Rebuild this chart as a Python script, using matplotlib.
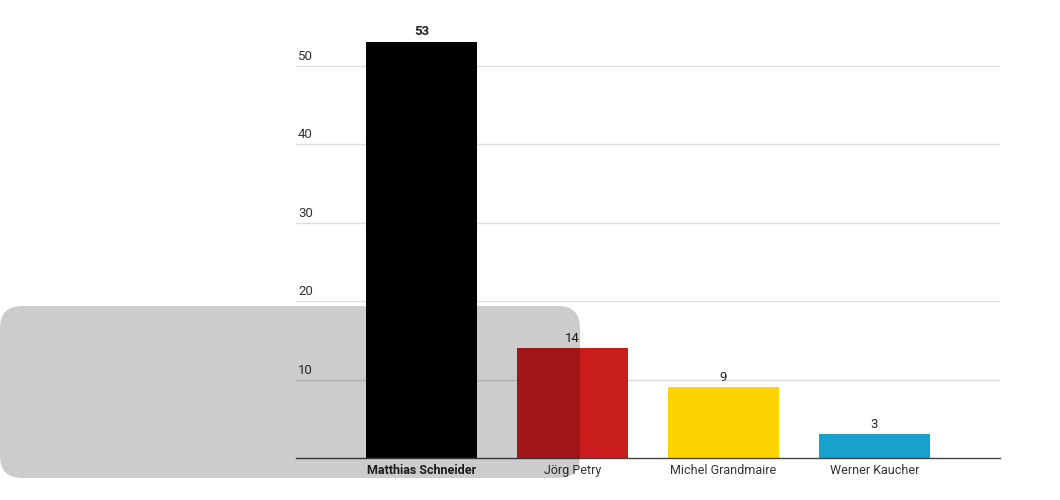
import matplotlib.pyplot as plt
from matplotlib.patches import FancyBboxPatch
from matplotlib.transforms import IdentityTransform, blended_transform_factory

plt.rcParams['font.family'] = ['Roboto', 'DejaVu Sans']

# data
candidates = ['Matthias Schneider', 'Jörg Petry', 'Michel Grandmaire', 'Werner Kaucher']
votes = [53, 14, 9, 3]
colors = ['#000000', '#c91c1c', '#fdd300', '#17a1cc']
yticks = [10, 20, 30, 40, 50]

fig = plt.figure(figsize=(10.6, 5), dpi=100)
ax = fig.add_axes([296 / 1060, 42 / 500, 704 / 1060, 431.75 / 500])

x = list(range(len(candidates)))
ax.bar(x, votes, width=0.735, color=colors, zorder=2)
ax.set_xlim(-0.831, 3.831)
ax.set_ylim(0, 55)

for s in ['top', 'right', 'left']:
    ax.spines[s].set_visible(False)
ax.spines['bottom'].set_color('#444444')
ax.spines['bottom'].set_linewidth(1)

ax.set_yticks(yticks)
ax.yaxis.grid(True, color='#dddddd', linewidth=1)
ax.set_axisbelow(True)
ax.tick_params(axis='y', length=0, labelleft=False)
ax.tick_params(axis='x', length=0, pad=4)
ax.set_xticks(x)
ax.set_xticklabels(candidates, fontsize=9, color='#333333')
ax.get_xticklabels()[0].set_fontweight('bold')
ax.get_xticklabels()[0].set_color('#222222')

# y labels drawn inside, above grid lines
tr = blended_transform_factory(ax.transAxes, ax.transData)
for t in yticks:
    ax.text(0.003, t + 0.35, str(t), transform=tr, fontsize=9.5,
            color='#333333', ha='left', va='bottom')

for i, v in enumerate(votes):
    ax.annotate(str(v), (i, v), xytext=(0, 2.5), textcoords='offset points',
                ha='center', va='bottom', fontsize=9.5, color='#222222',
                fontweight='bold' if i == 0 else 'normal')

# grey overlay box
overlay = FancyBboxPatch((0, 22), 580, 172,
                         boxstyle='round,pad=0,rounding_size=22',
                         transform=IdentityTransform(), facecolor='black',
                         alpha=0.2, edgecolor='none', zorder=10)
fig.add_artist(overlay)

fig.savefig('out.png', dpi=100)
